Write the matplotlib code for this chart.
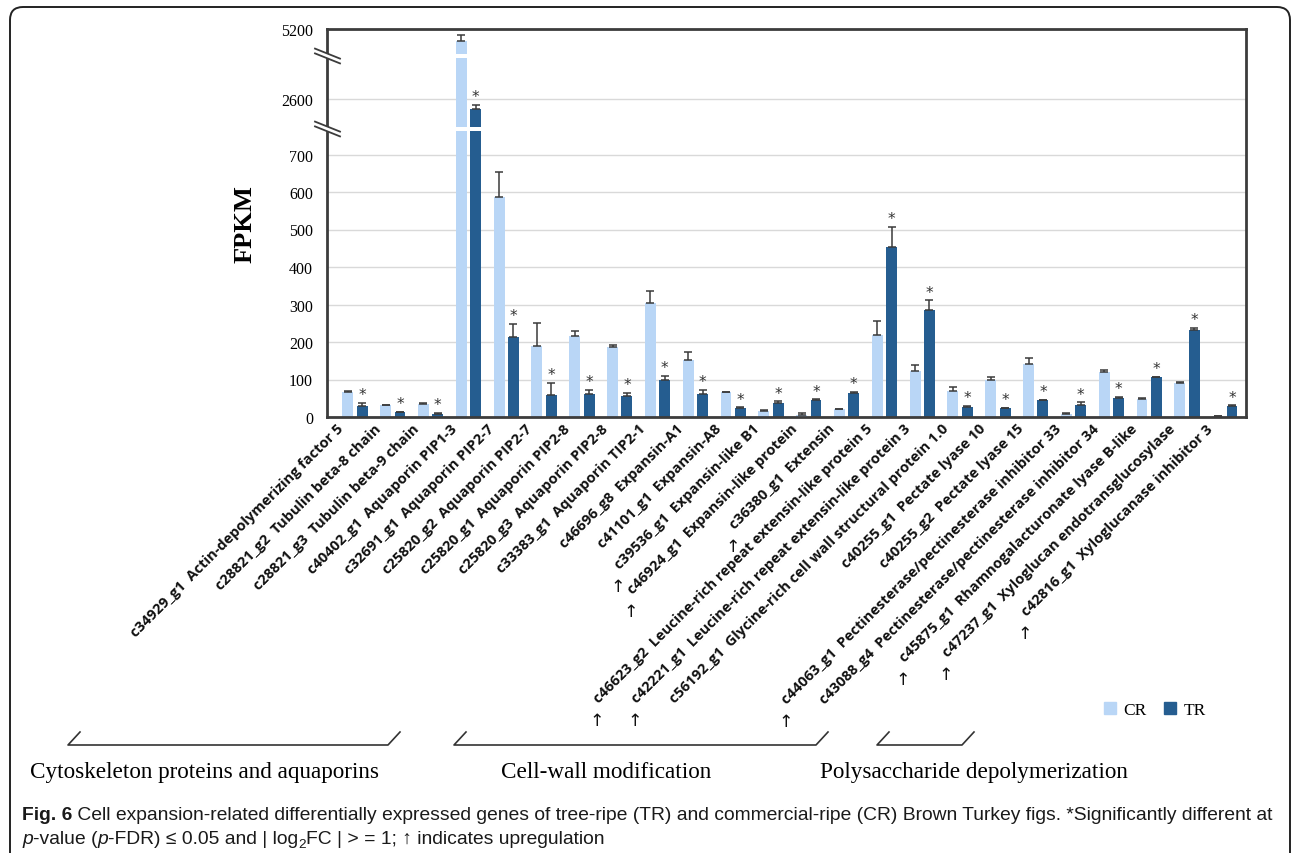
import numpy as np
import matplotlib
matplotlib.use("Agg")
import matplotlib.pyplot as plt
import matplotlib.transforms as mtransforms
from matplotlib import font_manager
from matplotlib.patches import Patch, Rectangle, FancyBboxPatch, Polygon
from matplotlib.lines import Line2D

# ---------------------------------------------------------------- data
gene_ids = [
    "c34929_g1", "c28821_g2", "c28821_g3", "c40402_g1", "c32691_g1", "c25820_g2",
    "c25820_g1", "c25820_g3", "c33383_g1", "c46696_g8", "c41101_g1", "c39536_g1",
    "c46924_g1", "c36380_g1", "c46623_g2", "c42221_g1", "c56192_g1", "c40255_g1",
    "c40255_g2", "c44063_g1", "c43088_g4", "c45875_g1", "c47237_g1", "c42816_g1",
]
gene_names = [
    "Actin-depolymerizing factor 5", "Tubulin beta-8 chain", "Tubulin beta-9 chain",
    "Aquaporin PIP1-3", "Aquaporin PIP2-7", "Aquaporin PIP2-7", "Aquaporin PIP2-8",
    "Aquaporin PIP2-8", "Aquaporin TIP2-1", "Expansin-A1", "Expansin-A8",
    "Expansin-like B1", "Expansin-like protein", "Extensin",
    "Leucine-rich repeat extensin-like protein 5",
    "Leucine-rich repeat extensin-like protein 3",
    "Glycine-rich cell wall structural protein 1.0", "Pectate lyase 10",
    "Pectate lyase 15", "Pectinesterase/pectinesterase inhibitor 33",
    "Pectinesterase/pectinesterase inhibitor 34", "Rhamnogalacturonate lyase B-like",
    "Xyloglucan endotransglucosylase", "Xyloglucanase inhibitor 3",
]
upregulated = [False] * 11 + [True, True, True, True, True, False, False, False,
                              True, False, True, True, True]
cr_values = [67, 31, 34, 4950, 587, 189, 217, 188, 305, 152, 67, 16,
             5, 21, 218, 124, 69, 98, 141, 7, 120, 49, 90, 3]
cr_errors = [2, 2, 4, 130, 67, 63, 13, 3, 31, 21, 1, 2,
             5, 1, 38, 16, 10, 9, 17, 3, 6, 1, 3, 1]
tr_values = [29, 13, 9, 2400, 213, 58, 61, 55, 98, 61, 23, 37,
             46, 65, 453, 286, 28, 24, 45, 33, 52, 106, 233, 30]
tr_errors = [8, 1, 2, 86, 36, 34, 11, 9, 12, 11, 3, 5,
             1, 3, 54, 25, 1, 1, 1, 6, 1, 1, 4, 1]
significant = [True] * 24
y_ticks = [0, 100, 200, 300, 400, 500, 600, 700, 2600, 5200]
series_names = ["CR", "TR"]
category_names = ["Cytoskeleton proteins and aquaporins",
                  "Cell-wall modification",
                  "Polysaccharide depolymerization"]

# ---------------------------------------------------------------- style
W, H, DPI = 1292, 854, 100
CR_COLOR = "#B9D6F6"
TR_COLOR = "#255D90"
SPINE = "#3c3c3c"
SERIF = ["Liberation Serif", "DejaVu Serif"]
installed = {f.name for f in font_manager.fontManager.ttflist}
LABEL_FONT = "Open Sans" if "Open Sans" in installed else "DejaVu Sans"
CAPTION_FONT = ("Liberation Sans Narrow" if "Liberation Sans Narrow" in installed
                else "Liberation Sans")

fig = plt.figure(figsize=(W / DPI, H / DPI), dpi=DPI)
fig.patch.set_facecolor("white")


def fx(px):
    return px / W


def fy(py):
    return 1 - py / H


ax_left, ax_right, ax_top, ax_bottom = 327, 1246, 30, 418
ax = fig.add_axes([fx(ax_left), fy(ax_bottom), fx(ax_right - ax_left),
                   (ax_bottom - ax_top) / H])

# broken value axis: linear low range, two compressed upper windows
seg_vals = [0, 768, 2000, 3460, 4660, 5200]
seg_pos = [0, 288, 288.01, 361, 361.01, 388]


def fwd(v):
    return np.interp(v, seg_vals, seg_pos)


def inv(p):
    return np.interp(p, seg_pos, seg_vals)


ax.set_yscale("function", functions=(fwd, inv))
ax.set_ylim(0, 5200)
n = len(gene_ids)
x = np.arange(n)
ax.set_xlim(-0.74, n - 1 + 0.56)

off, bw = 0.19, 0.29
ax.bar(x - off, cr_values, bw, color=CR_COLOR, zorder=1.5)
ax.bar(x + off, tr_values, bw, color=TR_COLOR, zorder=1.5)
ekw = dict(fmt="none", ecolor="#3a3a3a", elinewidth=1.1, capsize=3.2,
           capthick=1.1, zorder=2)
ax.errorbar(x - off, cr_values, yerr=[np.zeros(n), cr_errors], **ekw)
ax.errorbar(x + off, tr_values, yerr=[np.zeros(n), tr_errors], **ekw)

for i in range(n):
    if significant[i]:
        ax.annotate("*", (x[i] + off, tr_values[i] + tr_errors[i]),
                    xytext=(0, 0.5), textcoords="offset points", ha="center",
                    va="bottom", fontsize=11, color="#333333",
                    family="DejaVu Sans")

ax.set_yticks(y_ticks)
ax.set_yticklabels([str(t) for t in y_ticks], family=SERIF, fontsize=11.5)
ax.yaxis.set_minor_locator(matplotlib.ticker.NullLocator())
ax.tick_params(axis="y", length=0, pad=10)
ax.set_xticks([])
ax.yaxis.grid(True, color="#d9d9d9", linewidth=1.0)
ax.set_axisbelow(True)
for s in ax.spines.values():
    s.set_color(SPINE)
    s.set_linewidth(2.0)
    s.set_zorder(3)
ax.set_ylabel("FPKM", family=SERIF, fontsize=19, fontweight="bold", labelpad=18)

# white gaps through the bars at the axis breaks, and the break marks
axw, axh = ax_right - ax_left, ax_bottom - ax_top
for pos in (288, 361):
    yb = pos / 388
    ax.add_patch(Rectangle((0.002, yb - 2.3 / axh), 0.996, 4.6 / axh,
                           transform=ax.transAxes, color="white", zorder=2.6,
                           lw=0))
    x0, x1 = -12 / axw, 13 / axw
    d = 5.0 / axh
    g = 2.4 / axh
    ax.add_patch(Polygon([(x0, yb + d - g), (x1, yb - d - g),
                          (x1, yb - d + g), (x0, yb + d + g)],
                         closed=True, transform=ax.transAxes, color="white",
                         zorder=3.5, clip_on=False, lw=0))
    for sgn in (-1, 1):
        ax.add_line(Line2D([x0, x1], [yb + d + sgn * g, yb - d + sgn * g],
                           transform=ax.transAxes, color=SPINE, lw=1.3,
                           clip_on=False, zorder=4))

# rotated gene labels, anchored at their right end under each group
label_kw = dict(fontsize=10.5, family=LABEL_FONT, fontweight="bold")
label_off = mtransforms.ScaledTranslation(-14 / DPI, -9 / DPI, fig.dpi_scale_trans)
label_tr = mtransforms.blended_transform_factory(ax.transData, ax.transAxes) + label_off
labels = []
for i in range(n):
    t = ax.text(x[i], 0, f"{gene_ids[i]}  {gene_names[i]}", transform=label_tr,
                rotation=45, rotation_mode="anchor", ha="right", va="center",
                color="#111111", **label_kw)
    labels.append(t)

fig.canvas.draw()
renderer = fig.canvas.get_renderer()
probe = fig.text(0, 0, "c34929_g1", **label_kw)
h_txt = probe.get_window_extent(renderer).height
probe.remove()
for i, t in enumerate(labels):
    if not upregulated[i]:
        continue
    bb = t.get_window_extent(renderer)
    sx = bb.x0 + h_txt * np.sin(np.pi / 4)
    sy = bb.y0
    fig.text((sx - 4) / W, (sy - 15) / H, "\u2191", ha="center", va="center",
             fontsize=12.5, family="DejaVu Sans", color="#111111")

# category brackets and titles
brackets = [(68, 388), (454, 816), (877, 962)]
title_x = [204, 606, 974]
for (xa, xb), name, tx in zip(brackets, category_names, title_x):
    pts_x = [xa + 12, xa, xb, xb + 12]
    pts_y = [733, 746, 746, 733]
    fig.add_artist(Line2D([fx(p) for p in pts_x], [fy(p) for p in pts_y],
                          color="#333333", lw=1.2))
    fig.text(fx(tx), fy(773), name, ha="center", va="center", family=SERIF,
             fontsize=16.7)

# legend
fig.legend([Patch(color=CR_COLOR), Patch(color=TR_COLOR)], series_names,
           loc="center", bbox_to_anchor=(fx(1155), fy(711)), ncol=2,
           frameon=False, prop=dict(family=SERIF, size=12.5), handlelength=0.7,
           handleheight=0.7, handletextpad=0.45, columnspacing=1.0)

# outer rounded frame
fig.add_artist(FancyBboxPatch((10, -30), 1280, 30 + H - 8,
                              boxstyle="round,pad=0,rounding_size=13",
                              transform=mtransforms.IdentityTransform(),
                              facecolor="none", edgecolor="#222222", lw=1.4))


# caption, laid out run by run
def place_runs(runs, x0, base_y, size):
    xcur = x0
    made = []
    for text, kw, dy, scale in runs:
        t = fig.text(xcur / W, 1 - (base_y - dy) / H, text, va="baseline",
                     ha="left", fontsize=size * scale, family=CAPTION_FONT,
                     color="#1a1a1a", **kw)
        made.append(t)
        xcur += t.get_window_extent(renderer).width
    return xcur, made


line1 = [("Fig. 6", dict(fontweight="bold"), 0, 1.0),
         (" Cell expansion-related differentially expressed genes of tree-ripe (TR) "
          "and commercial-ripe (CR) Brown Turkey figs. *Significantly different at",
          {}, 0, 1.0)]
line2 = [("p", dict(style="italic"), 0, 1.0),
         ("-value (", {}, 0, 1.0),
         ("p", dict(style="italic"), 0, 1.0),
         ("-FDR) \u2264 0.05 and | log", {}, 0, 1.0),
         ("2", {}, -4, 0.7),
         ("FC | > = 1; \u2191 indicates upregulation", {}, 0, 1.0)]

size0 = 12.0
end, trial = place_runs(line1, 22, 820, size0)
for t in trial:
    t.remove()
cap_size = size0 * (1275 - 22) / (end - 22)
place_runs(line1, 22, 820, cap_size)
place_runs(line2, 22, 844, cap_size)

fig.savefig("out.png", dpi=DPI, facecolor="white")
